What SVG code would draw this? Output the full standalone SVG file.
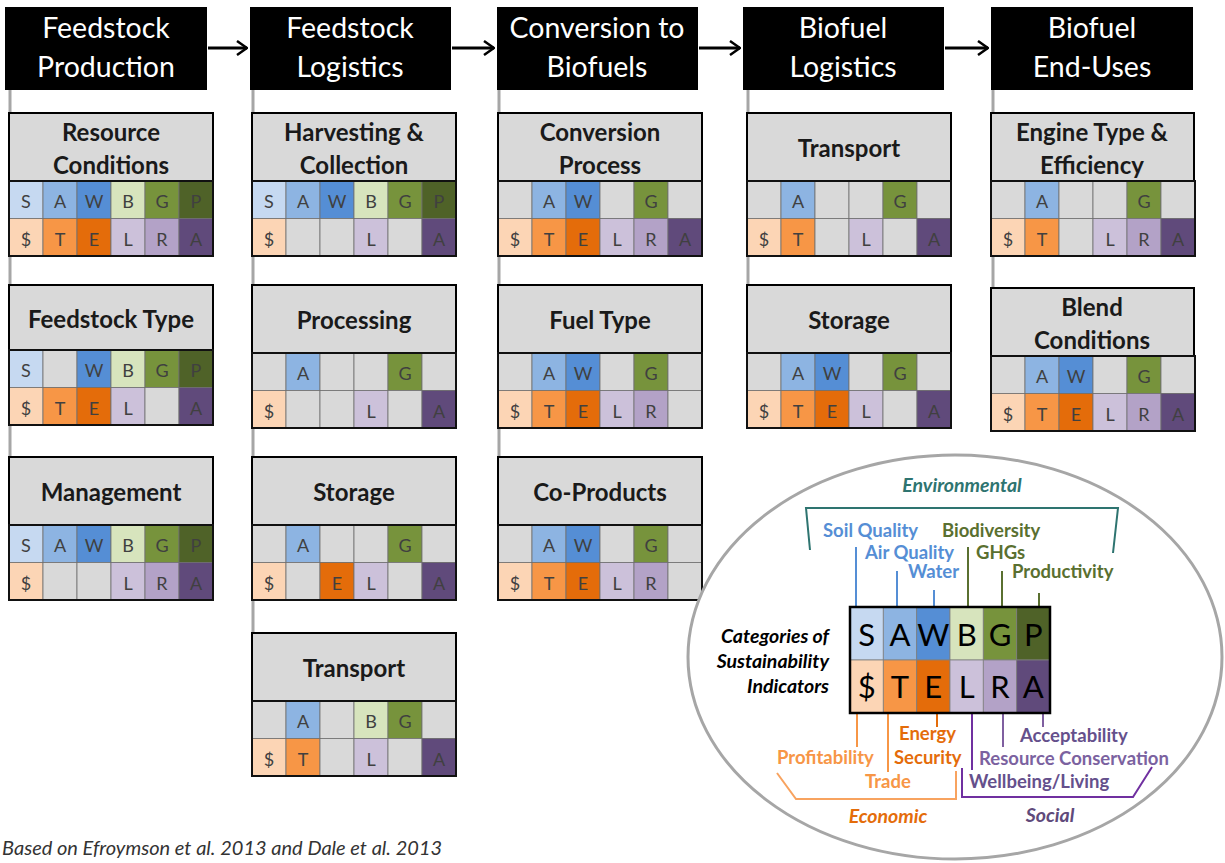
<svg xmlns="http://www.w3.org/2000/svg" xmlns:xlink="http://www.w3.org/1999/xlink" width="1225" height="863" viewBox="0 0 1225 863">
<style>
.top{fill:#000}
.tt{font-family:Lato,"Liberation Sans",sans-serif;font-size:28.5px;fill:#fff;text-anchor:middle}
.hd{fill:#d9d9d9;stroke:#000;stroke-width:2}
.ht{font-family:Lato,"Liberation Sans",sans-serif;font-size:24px;font-weight:bold;fill:#1a1a1a;text-anchor:middle}
.gb{fill:none;stroke:#111;stroke-width:2}
.cell{stroke:#6f6f6f;stroke-width:0.8}
.cl{font-family:Lato,"Liberation Sans",sans-serif;font-size:18px;fill:#404040;text-anchor:middle}
.vl{stroke:#a6a6a6;stroke-width:3;fill:none}
.arr{stroke:#000;stroke-width:3;fill:none}
.lg{font-family:Lato,"Liberation Sans",sans-serif;font-size:31px;fill:#000;text-anchor:middle}
.lb{font-family:Lato,"Liberation Sans",sans-serif;font-size:18.5px;font-weight:bold}
.li{font-family:Lato,"Liberation Sans",sans-serif;font-size:19.5px;font-weight:bold;font-style:italic}
</style>
<defs>
<marker id="ah" viewBox="0 0 12 16" refX="11" refY="8" markerWidth="12" markerHeight="16" markerUnits="userSpaceOnUse" orient="auto">
<path d="M1,1 L11,8 L1,15" fill="none" stroke="#000" stroke-width="2.5"/>
</marker>
<g id="c0"><rect class="cell" width="34" height="37.5" fill="#d9d9d9"/></g>
<g id="cS"><rect class="cell" width="34" height="37.5" fill="#c6d9f1"/><text class="cl" x="17" y="27">S</text></g>
<g id="cA"><rect class="cell" width="34" height="37.5" fill="#8db4e2"/><text class="cl" x="17" y="27">A</text></g>
<g id="cW"><rect class="cell" width="34" height="37.5" fill="#558ed5"/><text class="cl" x="17" y="27">W</text></g>
<g id="cB"><rect class="cell" width="34" height="37.5" fill="#d7e4bd"/><text class="cl" x="17" y="27">B</text></g>
<g id="cG"><rect class="cell" width="34" height="37.5" fill="#77933c"/><text class="cl" x="17" y="27">G</text></g>
<g id="cP"><rect class="cell" width="34" height="37.5" fill="#4f6228"/><text class="cl" x="17" y="27">P</text></g>
<g id="cD"><rect class="cell" width="34" height="37.5" fill="#fcd5b5"/><text class="cl" x="17" y="27">$</text></g>
<g id="cT"><rect class="cell" width="34" height="37.5" fill="#f79646"/><text class="cl" x="17" y="27">T</text></g>
<g id="cE"><rect class="cell" width="34" height="37.5" fill="#e46c0a"/><text class="cl" x="17" y="27">E</text></g>
<g id="cL"><rect class="cell" width="34" height="37.5" fill="#ccc1da"/><text class="cl" x="17" y="27">L</text></g>
<g id="cR"><rect class="cell" width="34" height="37.5" fill="#b3a2c7"/><text class="cl" x="17" y="27">R</text></g>
<g id="cQ"><rect class="cell" width="34" height="37.5" fill="#604a7b"/><text class="cl" x="17" y="27">A</text></g>
</defs>
<rect width="1225" height="863" fill="#fff"/>

<g id="connectors">
<line class="vl" x1="10" y1="90" x2="10" y2="457"/>
<line class="vl" x1="253" y1="90" x2="253" y2="633"/>
<line class="vl" x1="499" y1="90" x2="499" y2="457"/>
<line class="vl" x1="748" y1="90" x2="748" y2="285"/>
<line class="vl" x1="993" y1="90" x2="993" y2="288"/>
<line class="arr" x1="208" y1="48" x2="247" y2="48" marker-end="url(#ah)"/>
<line class="arr" x1="452" y1="48" x2="494" y2="48" marker-end="url(#ah)"/>
<line class="arr" x1="699" y1="48" x2="740" y2="48" marker-end="url(#ah)"/>
<line class="arr" x1="945" y1="48" x2="988" y2="48" marker-end="url(#ah)"/>
</g>

<g id="stage-feedstock-production"><rect class="top" x="5" y="7" width="202" height="83"/><text class="tt" x="106" y="38">Feedstock</text><text class="tt" x="106" y="77">Production</text></g>
<g id="stage-feedstock-logistics"><rect class="top" x="250" y="7" width="201" height="83"/><text class="tt" x="350" y="38">Feedstock</text><text class="tt" x="350" y="77">Logistics</text></g>
<g id="stage-conversion"><rect class="top" x="497" y="7" width="201" height="83"/><text class="tt" x="597" y="38">Conversion to</text><text class="tt" x="597" y="77">Biofuels</text></g>
<g id="stage-biofuel-logistics"><rect class="top" x="743" y="7" width="201" height="83"/><text class="tt" x="843" y="38">Biofuel</text><text class="tt" x="843" y="77">Logistics</text></g>
<g id="stage-end-uses"><rect class="top" x="991" y="7" width="202" height="83"/><text class="tt" x="1092" y="38">Biofuel</text><text class="tt" x="1092" y="77">End-Uses</text></g>

<!-- Column 1 -->
<g id="card-resource-conditions" transform="translate(9,113)">
<rect class="hd" width="204" height="68"/><text class="ht" x="102" y="28">Resource</text><text class="ht" x="102" y="61">Conditions</text>
<use href="#cS" x="0" y="68"/><use href="#cA" x="34" y="68"/><use href="#cW" x="68" y="68"/><use href="#cB" x="102" y="68"/><use href="#cG" x="136" y="68"/><use href="#cP" x="170" y="68"/>
<use href="#cD" x="0" y="105.5"/><use href="#cT" x="34" y="105.5"/><use href="#cE" x="68" y="105.5"/><use href="#cL" x="102" y="105.5"/><use href="#cR" x="136" y="105.5"/><use href="#cQ" x="170" y="105.5"/>
<rect class="gb" y="68" width="204" height="75"/></g>

<g id="card-feedstock-type" transform="translate(9,285)">
<rect class="hd" width="204" height="65"/><text class="ht" x="102" y="43">Feedstock Type</text>
<use href="#cS" x="0" y="65"/><use href="#c0" x="34" y="65"/><use href="#cW" x="68" y="65"/><use href="#cB" x="102" y="65"/><use href="#cG" x="136" y="65"/><use href="#cP" x="170" y="65"/>
<use href="#cD" x="0" y="102.5"/><use href="#cT" x="34" y="102.5"/><use href="#cE" x="68" y="102.5"/><use href="#cL" x="102" y="102.5"/><use href="#c0" x="136" y="102.5"/><use href="#cQ" x="170" y="102.5"/>
<rect class="gb" y="65" width="204" height="75"/></g>

<g id="card-management" transform="translate(9,457)">
<rect class="hd" width="204" height="68"/><text class="ht" x="102" y="44">Management</text>
<use href="#cS" x="0" y="68"/><use href="#cA" x="34" y="68"/><use href="#cW" x="68" y="68"/><use href="#cB" x="102" y="68"/><use href="#cG" x="136" y="68"/><use href="#cP" x="170" y="68"/>
<use href="#cD" x="0" y="105.5"/><use href="#c0" x="34" y="105.5"/><use href="#c0" x="68" y="105.5"/><use href="#cL" x="102" y="105.5"/><use href="#cR" x="136" y="105.5"/><use href="#cQ" x="170" y="105.5"/>
<rect class="gb" y="68" width="204" height="75"/></g>

<!-- Column 2 -->
<g id="card-harvesting" transform="translate(252,113)">
<rect class="hd" width="204" height="68"/><text class="ht" x="102" y="28">Harvesting &amp;</text><text class="ht" x="102" y="61">Collection</text>
<use href="#cS" x="0" y="68"/><use href="#cA" x="34" y="68"/><use href="#cW" x="68" y="68"/><use href="#cB" x="102" y="68"/><use href="#cG" x="136" y="68"/><use href="#cP" x="170" y="68"/>
<use href="#cD" x="0" y="105.5"/><use href="#c0" x="34" y="105.5"/><use href="#c0" x="68" y="105.5"/><use href="#cL" x="102" y="105.5"/><use href="#c0" x="136" y="105.5"/><use href="#cQ" x="170" y="105.5"/>
<rect class="gb" y="68" width="204" height="75"/></g>

<g id="card-processing" transform="translate(252,285)">
<rect class="hd" width="204" height="68"/><text class="ht" x="102" y="44">Processing</text>
<use href="#c0" x="0" y="68"/><use href="#cA" x="34" y="68"/><use href="#c0" x="68" y="68"/><use href="#c0" x="102" y="68"/><use href="#cG" x="136" y="68"/><use href="#c0" x="170" y="68"/>
<use href="#cD" x="0" y="105.5"/><use href="#c0" x="34" y="105.5"/><use href="#c0" x="68" y="105.5"/><use href="#cL" x="102" y="105.5"/><use href="#c0" x="136" y="105.5"/><use href="#cQ" x="170" y="105.5"/>
<rect class="gb" y="68" width="204" height="75"/></g>

<g id="card-fl-storage" transform="translate(252,457)">
<rect class="hd" width="204" height="68"/><text class="ht" x="102" y="44">Storage</text>
<use href="#c0" x="0" y="68"/><use href="#cA" x="34" y="68"/><use href="#c0" x="68" y="68"/><use href="#c0" x="102" y="68"/><use href="#cG" x="136" y="68"/><use href="#c0" x="170" y="68"/>
<use href="#cD" x="0" y="105.5"/><use href="#c0" x="34" y="105.5"/><use href="#cE" x="68" y="105.5"/><use href="#cL" x="102" y="105.5"/><use href="#c0" x="136" y="105.5"/><use href="#cQ" x="170" y="105.5"/>
<rect class="gb" y="68" width="204" height="75"/></g>

<g id="card-fl-transport" transform="translate(252,633)">
<rect class="hd" width="204" height="68"/><text class="ht" x="102" y="44">Transport</text>
<use href="#c0" x="0" y="68"/><use href="#cA" x="34" y="68"/><use href="#c0" x="68" y="68"/><use href="#cB" x="102" y="68"/><use href="#cG" x="136" y="68"/><use href="#c0" x="170" y="68"/>
<use href="#cD" x="0" y="105.5"/><use href="#cT" x="34" y="105.5"/><use href="#c0" x="68" y="105.5"/><use href="#cL" x="102" y="105.5"/><use href="#c0" x="136" y="105.5"/><use href="#cQ" x="170" y="105.5"/>
<rect class="gb" y="68" width="204" height="75"/></g>

<!-- Column 3 -->
<g id="card-conversion-process" transform="translate(498,113)">
<rect class="hd" width="204" height="68"/><text class="ht" x="102" y="28">Conversion</text><text class="ht" x="102" y="61">Process</text>
<use href="#c0" x="0" y="68"/><use href="#cA" x="34" y="68"/><use href="#cW" x="68" y="68"/><use href="#c0" x="102" y="68"/><use href="#cG" x="136" y="68"/><use href="#c0" x="170" y="68"/>
<use href="#cD" x="0" y="105.5"/><use href="#cT" x="34" y="105.5"/><use href="#cE" x="68" y="105.5"/><use href="#cL" x="102" y="105.5"/><use href="#cR" x="136" y="105.5"/><use href="#cQ" x="170" y="105.5"/>
<rect class="gb" y="68" width="204" height="75"/></g>

<g id="card-fuel-type" transform="translate(498,285)">
<rect class="hd" width="204" height="68"/><text class="ht" x="102" y="44">Fuel Type</text>
<use href="#c0" x="0" y="68"/><use href="#cA" x="34" y="68"/><use href="#cW" x="68" y="68"/><use href="#c0" x="102" y="68"/><use href="#cG" x="136" y="68"/><use href="#c0" x="170" y="68"/>
<use href="#cD" x="0" y="105.5"/><use href="#cT" x="34" y="105.5"/><use href="#cE" x="68" y="105.5"/><use href="#cL" x="102" y="105.5"/><use href="#cR" x="136" y="105.5"/><use href="#c0" x="170" y="105.5"/>
<rect class="gb" y="68" width="204" height="75"/></g>

<g id="card-co-products" transform="translate(498,457)">
<rect class="hd" width="204" height="68"/><text class="ht" x="102" y="44">Co-Products</text>
<use href="#c0" x="0" y="68"/><use href="#cA" x="34" y="68"/><use href="#cW" x="68" y="68"/><use href="#c0" x="102" y="68"/><use href="#cG" x="136" y="68"/><use href="#c0" x="170" y="68"/>
<use href="#cD" x="0" y="105.5"/><use href="#cT" x="34" y="105.5"/><use href="#cE" x="68" y="105.5"/><use href="#cL" x="102" y="105.5"/><use href="#cR" x="136" y="105.5"/><use href="#c0" x="170" y="105.5"/>
<rect class="gb" y="68" width="204" height="75"/></g>

<!-- Column 4 -->
<g id="card-bl-transport" transform="translate(747,113)">
<rect class="hd" width="204" height="68"/><text class="ht" x="102" y="44">Transport</text>
<use href="#c0" x="0" y="68"/><use href="#cA" x="34" y="68"/><use href="#c0" x="68" y="68"/><use href="#c0" x="102" y="68"/><use href="#cG" x="136" y="68"/><use href="#c0" x="170" y="68"/>
<use href="#cD" x="0" y="105.5"/><use href="#cT" x="34" y="105.5"/><use href="#c0" x="68" y="105.5"/><use href="#cL" x="102" y="105.5"/><use href="#c0" x="136" y="105.5"/><use href="#cQ" x="170" y="105.5"/>
<rect class="gb" y="68" width="204" height="75"/></g>

<g id="card-bl-storage" transform="translate(747,285)">
<rect class="hd" width="204" height="68"/><text class="ht" x="102" y="44">Storage</text>
<use href="#c0" x="0" y="68"/><use href="#cA" x="34" y="68"/><use href="#cW" x="68" y="68"/><use href="#c0" x="102" y="68"/><use href="#cG" x="136" y="68"/><use href="#c0" x="170" y="68"/>
<use href="#cD" x="0" y="105.5"/><use href="#cT" x="34" y="105.5"/><use href="#cE" x="68" y="105.5"/><use href="#cL" x="102" y="105.5"/><use href="#c0" x="136" y="105.5"/><use href="#cQ" x="170" y="105.5"/>
<rect class="gb" y="68" width="204" height="75"/></g>

<!-- Column 5 -->
<g id="card-engine-type" transform="translate(991,113)">
<rect class="hd" width="203" height="68"/><text class="ht" x="101" y="28">Engine Type &amp;</text><text class="ht" x="101" y="61">Efficiency</text>
<use href="#c0" x="0" y="68"/><use href="#cA" x="34" y="68"/><use href="#c0" x="68" y="68"/><use href="#c0" x="102" y="68"/><use href="#cG" x="136" y="68"/><use href="#c0" x="170" y="68"/>
<use href="#cD" x="0" y="105.5"/><use href="#cT" x="34" y="105.5"/><use href="#c0" x="68" y="105.5"/><use href="#cL" x="102" y="105.5"/><use href="#cR" x="136" y="105.5"/><use href="#cQ" x="170" y="105.5"/>
<rect class="gb" y="68" width="204" height="75"/></g>

<g id="card-blend-conditions" transform="translate(991,288)">
<rect class="hd" width="203" height="68"/><text class="ht" x="101" y="28">Blend</text><text class="ht" x="101" y="61">Conditions</text>
<use href="#c0" x="0" y="68"/><use href="#cA" x="34" y="68"/><use href="#cW" x="68" y="68"/><use href="#c0" x="102" y="68"/><use href="#cG" x="136" y="68"/><use href="#c0" x="170" y="68"/>
<use href="#cD" x="0" y="105.5"/><use href="#cT" x="34" y="105.5"/><use href="#cE" x="68" y="105.5"/><use href="#cL" x="102" y="105.5"/><use href="#cR" x="136" y="105.5"/><use href="#cQ" x="170" y="105.5"/>
<rect class="gb" y="68" width="204" height="75"/></g>

<!-- Legend -->
<g id="legend">
<ellipse cx="955" cy="657" rx="267" ry="202" fill="#fff" stroke="#a6a6a6" stroke-width="3"/>
<text class="li" x="962" y="492" text-anchor="middle" fill="#2e7470">Environmental</text>
<path d="M810,550 L806,508 L1118,508 L1113,553" fill="none" stroke="#2e7470" stroke-width="2"/>
<g class="lb" fill="#558ed5">
<text x="823" y="537">Soil Quality</text>
<text x="865" y="559">Air Quality</text>
<text x="908" y="578">Water</text>
</g>
<g class="lb" fill="#5a7030">
<text x="942" y="537">Biodiversity</text>
<text x="976" y="559">GHGs</text>
<text x="1012" y="578">Productivity</text>
</g>
<g stroke-width="2" fill="none">
<line x1="856" y1="547" x2="856" y2="607" stroke="#558ed5"/>
<line x1="897" y1="571" x2="897" y2="607" stroke="#558ed5"/>
<line x1="934" y1="590" x2="934" y2="607" stroke="#558ed5"/>
<line x1="968" y1="547" x2="968" y2="607" stroke="#5a7030"/>
<line x1="1002" y1="571" x2="1002" y2="607" stroke="#5a7030"/>
<line x1="1039" y1="593" x2="1039" y2="607" stroke="#5a7030"/>
<line x1="857" y1="713" x2="857" y2="747" stroke="#f79646"/>
<line x1="888" y1="713" x2="888" y2="772" stroke="#f79646"/>
<line x1="937" y1="713" x2="937" y2="727" stroke="#e46c0a"/>
<line x1="972" y1="713" x2="972" y2="770" stroke="#7030a0"/>
<line x1="1003" y1="713" x2="1003" y2="747" stroke="#7f5fa0"/>
<line x1="1043" y1="713" x2="1043" y2="727" stroke="#7f5fa0"/>
<path d="M777,773 L796,799 L956,799 L956,771" stroke="#f8a35f"/>
<path d="M962,768 L962,797 L1133,797 L1152,767" stroke="#7030a0"/>
</g>
<g stroke="#7f7f7f" stroke-width="0.8">
<rect x="850" y="607" width="33.3" height="53" fill="#c6d9f1"/>
<rect x="883.3" y="607" width="33.3" height="53" fill="#8db4e2"/>
<rect x="916.7" y="607" width="33.3" height="53" fill="#558ed5"/>
<rect x="950" y="607" width="33.3" height="53" fill="#d7e4bd"/>
<rect x="983.3" y="607" width="33.3" height="53" fill="#77933c"/>
<rect x="1016.7" y="607" width="33.3" height="53" fill="#4f6228"/>
<rect x="850" y="660" width="33.3" height="53" fill="#fcd5b5"/>
<rect x="883.3" y="660" width="33.3" height="53" fill="#f79646"/>
<rect x="916.7" y="660" width="33.3" height="53" fill="#e46c0a"/>
<rect x="950" y="660" width="33.3" height="53" fill="#ccc1da"/>
<rect x="983.3" y="660" width="33.3" height="53" fill="#b3a2c7"/>
<rect x="1016.7" y="660" width="33.3" height="53" fill="#604a7b"/>
</g>
<rect x="850" y="607" width="200" height="106" fill="none" stroke="#000" stroke-width="2.5"/>
<text class="lg" x="866.7" y="646">S</text><text class="lg" x="900" y="646">A</text><text class="lg" x="933.3" y="646">W</text><text class="lg" x="966.7" y="646">B</text><text class="lg" x="1000" y="646">G</text><text class="lg" x="1033.3" y="646">P</text>
<text class="lg" x="866.7" y="698">$</text><text class="lg" x="900" y="698">T</text><text class="lg" x="933.3" y="698">E</text><text class="lg" x="966.7" y="698">L</text><text class="lg" x="1000" y="698">R</text><text class="lg" x="1033.3" y="698">A</text>
<g class="li" fill="#000" text-anchor="end">
<text x="829" y="643">Categories of</text>
<text x="829" y="668">Sustainability</text>
<text x="829" y="693">Indicators</text>
</g>
<g class="lb">
<text x="899" y="740" fill="#e46c0a">Energy</text>
<text x="777" y="764" fill="#f79646">Profitability</text>
<text x="894" y="764" fill="#e46c0a">Security</text>
<text x="865" y="788" fill="#f79646">Trade</text>
<text x="1020" y="742" fill="#65508c">Acceptability</text>
<text x="979" y="765" fill="#7b62a0">Resource Conservation</text>
<text x="969" y="788" fill="#65508c">Wellbeing/Living</text>
</g>
<text class="li" x="888" y="823" text-anchor="middle" fill="#e46c0a">Economic</text>
<text class="li" x="1050" y="822" text-anchor="middle" fill="#604a7b">Social</text>
</g>

<text x="2" y="855" font-family="Lato, 'Liberation Sans', sans-serif" font-size="20" font-style="italic" fill="#333">Based on Efroymson et al. 2013 and Dale et al. 2013</text>
</svg>
